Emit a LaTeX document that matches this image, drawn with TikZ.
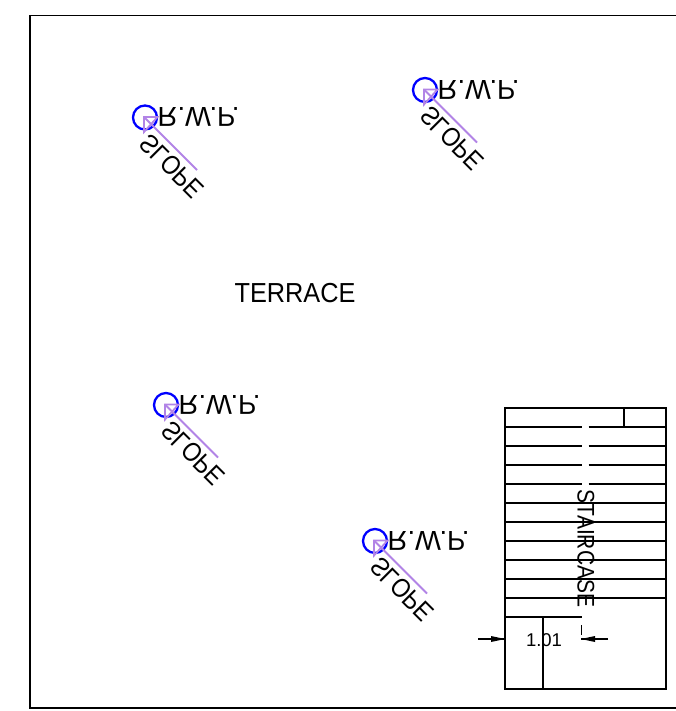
\documentclass[tikz,border=0pt]{standalone}
\usepackage{fontspec}
\setmainfont{Liberation Sans}
\definecolor{slopec}{HTML}{B284E6}
\tikzset{
 wall/.style={line width=1.6pt,black},
 thin wall/.style={line width=1.3pt,black},
 rwpring/.style={circle,draw=blue,line width=2.3pt,minimum size=24pt,inner sep=0pt},
 flip/.style={inner sep=0pt,font=\fontsize{24.5}{24.5}\selectfont},
 slopeline/.style={draw=slopec,line width=1.8pt},
 lbl/.style={inner sep=0pt},
}
\newcommand{\flipped}[3]{\scalebox{#1}[#2]{#3}}
\begin{document}
\begin{tikzpicture}[x=1pt,y=-1pt]
\useasboundingbox (0,0) rectangle (676,711);
% frame
\coordinate (fa) at (676,15.5); \coordinate (fb) at (30,15.5);
\coordinate (fc) at (30,708); \coordinate (fd) at (676,708);
\draw[wall,line width=1.8pt] (fa) -- (fb) -- (fc) -- (fd);
% outlets
\foreach \n/\x/\y in {a/145/117.5,b/425/90,c/166/405,d/375/541}{
 \begin{scope}[shift={(\x,\y)}]
  \node[rwpring] (ring\n) at (0,0) {};
  \node[flip,anchor=west] (rwp\n) at (12.5,-0.5) {\flipped{1.12}{-1.12}{R.W.P.}};
  \node[flip,rotate=-45] (slope\n) at (27,48.5) {\flipped{.95}{-1.08}{SLOPE}};
  \coordinate (tail\n) at (52,52.5);
  \coordinate (tip\n) at (-1,-0.5);
  \coordinate (hl\n) at (12.5,-0.5);
  \coordinate (hb\n) at (-1,14.5);
  \draw[slopeline] (tail\n) -- (tip\n);
  \draw[slopeline] (tip\n) -- (hl\n) -- (hb\n) -- cycle;
 \end{scope}
}
\node[lbl,font=\fontsize{27.5}{27.5}\selectfont,xscale=.92] (terrace) at (295,293) {TERRACE};
% stair box
\coordinate (s1) at (505,408); \coordinate (s2) at (666,689);
\draw[wall] (s1) rectangle (s2);
\coordinate (l1) at (624,408); \coordinate (l2) at (624,427);
\draw[wall] (l1) -- (l2);
\foreach \i/\y in {1/427,2/446,3/465,4/484}{
 \coordinate (gl\i) at (505,\y); \coordinate (ga\i) at (581.5,\y);
 \coordinate (gb\i) at (588.5,\y); \coordinate (gr\i) at (666,\y);
 \draw[wall] (gl\i) -- (ga\i) (gb\i) -- (gr\i);
}
\foreach \i/\y in {5/503,6/522,7/541,8/560,9/579,10/598}{
 \coordinate (tl\i) at (505,\y); \coordinate (tr\i) at (666,\y);
 \draw[wall] (tl\i) -- (tr\i);
}
\coordinate (ll) at (505,617); \coordinate (lr) at (581.5,617);
\draw[wall] (ll) -- (lr);
\coordinate (va) at (543,617); \coordinate (vb) at (543,689);
\draw[wall] (va) -- (vb);
\coordinate (ta) at (581.5,625); \coordinate (tb) at (581.5,635);
\draw[thin wall] (ta) -- (tb);
\node[lbl,rotate=-90,font=\fontsize{24}{24}\selectfont] (stair) at (586,548.5) {\scalebox{.875}[1]{STAIRCASE}};
% dimension
\coordinate (d1) at (478,639); \coordinate (d2) at (491,639); \coordinate (d3) at (505,639);
\coordinate (d4) at (608,639); \coordinate (d5) at (595,639); \coordinate (d6) at (581,639);
\draw[line width=1.2pt] (d1) -- (d3) (d4) -- (d6);
\fill (d2) ++(0,-3) -- (d3) -- ++(-14,3) -- cycle;
\fill (d5) ++(0,-3) -- (d6) -- ++(14,3) -- cycle;
\node[lbl,font=\fontsize{18.5}{18.5}\selectfont] (dim) at (544,640.5) {1.01};
\end{tikzpicture}
\end{document}
